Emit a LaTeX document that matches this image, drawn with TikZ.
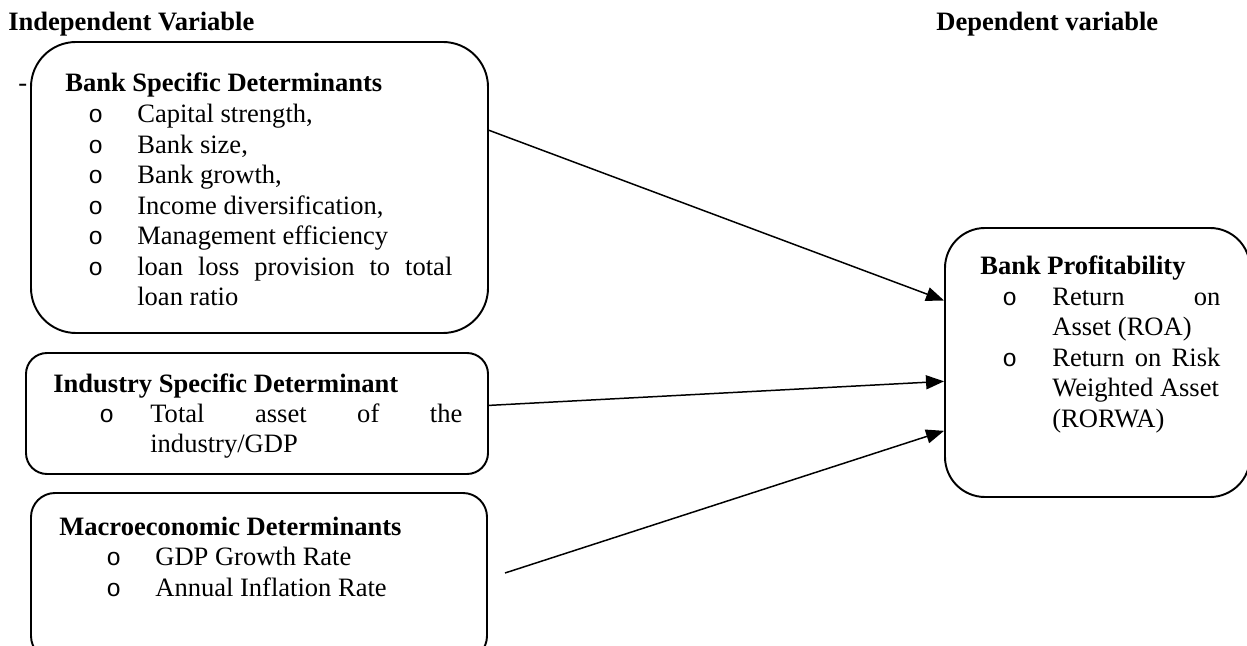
\documentclass[tikz,border=0pt]{standalone}
\usepackage{fontspec}
\setmainfont{Liberation Serif}
\newfontfamily\bulletfont{Liberation Mono}
\usetikzlibrary{arrows.meta}

\begin{document}
\begin{tikzpicture}[
  every node/.style={font=\fontsize{15.1}{17.4}\selectfont, inner sep=0pt},
  detbox/.style={draw, line width=1.1pt, rounded corners=#1},
  txt/.style={anchor=base west},
  bul/.style={anchor=base west, font=\fontsize{14}{17.4}\selectfont\bulletfont},
  link/.style={line width=0.85pt, -{Triangle[length=0.36cm,width=0.28cm]}}
]
  \clip (0,0) rectangle (24.94,12.9);

  % column titles
  \node[txt] (indep) at (0.16,12.28) {\textbf{Independent Variable}};
  \node[txt] (dep) at (18.72,12.28) {\textbf{Dependent variable}};

  % boxes
  \node[detbox=0.9cm, minimum width=9.14cm, minimum height=5.82cm] (bank) at (5.19,9.15) {};
  \node[detbox=0.42cm, minimum width=9.24cm, minimum height=2.42cm] (industry) at (5.14,4.63) {};
  \node[detbox=0.48cm, minimum width=9.12cm, minimum height=3.34cm] (macro) at (5.18,1.37) {};
  \node[detbox=0.8cm, minimum width=6.1cm, minimum height=5.38cm] (profit) at (21.95,5.65) {};

  % bank specific
  \node[txt] (dash) at (0.36,11.06) {-};
  \node[txt] (bankhead) at (1.30,11.06) {\textbf{Bank Specific Determinants}};
  \foreach \t [count=\i from 0] in {{Capital strength,},{Bank size,},{Bank growth,},{Income diversification,},{Management efficiency}}
  {
    \node[bul] (bankbul\i) at (1.76,10.44-0.61*\i) {o};
    \node[txt] (bankitem\i) at (2.74,10.44-0.61*\i) {\t};
  }
  \node[bul] (bankbul5) at (1.76,7.39) {o};
  \node[txt] (bankitem5) at (2.74,7.39) {\makebox[6.3cm][s]{loan loss provision to total}};
  \node[txt] (bankitem6) at (2.74,6.78) {loan ratio};

  % industry specific
  \node[txt] (indhead) at (1.06,5.04) {\textbf{Industry Specific Determinant}};
  \node[bul] (indbul) at (1.98,4.44) {o};
  \node[txt] (inditem0) at (3.00,4.44) {\makebox[6.24cm][s]{Total asset of the}};
  \node[txt] (inditem1) at (3.00,3.84) {industry/GDP};

  % macroeconomic
  \node[txt] (machead) at (1.18,2.20) {\textbf{Macroeconomic Determinants}};
  \node[bul] (macbul0) at (2.12,1.59) {o};
  \node[txt] (macitem0) at (3.10,1.59) {GDP Growth Rate};
  \node[bul] (macbul1) at (2.12,0.98) {o};
  \node[txt] (macitem1) at (3.10,0.98) {Annual Inflation Rate};

  % profitability
  \node[txt] (profhead) at (19.60,7.40) {\textbf{Bank Profitability}};
  \node[bul] (profbul0) at (20.04,6.78) {o};
  \node[txt] (profitem0) at (21.04,6.78) {\makebox[3.36cm][s]{Return on}};
  \node[txt] (profitem1) at (21.04,6.18) {Asset (ROA)};
  \node[bul] (profbul1) at (20.04,5.56) {o};
  \node[txt] (profitem2) at (21.04,5.56) {\makebox[3.36cm][s]{Return on Risk}};
  \node[txt] (profitem3) at (21.04,4.96) {Weighted Asset};
  \node[txt] (profitem4) at (21.04,4.34) {(RORWA)};

  % arrows
  \coordinate (macroout) at (10.10,1.44);
  \draw[link] (bank.14.6) -- (profit.158.4);
  \draw[link] (industry.2.6) -- (profit.187.7);
  \draw[link] (macroout) -- (profit.204.8);
\end{tikzpicture}
\end{document}
